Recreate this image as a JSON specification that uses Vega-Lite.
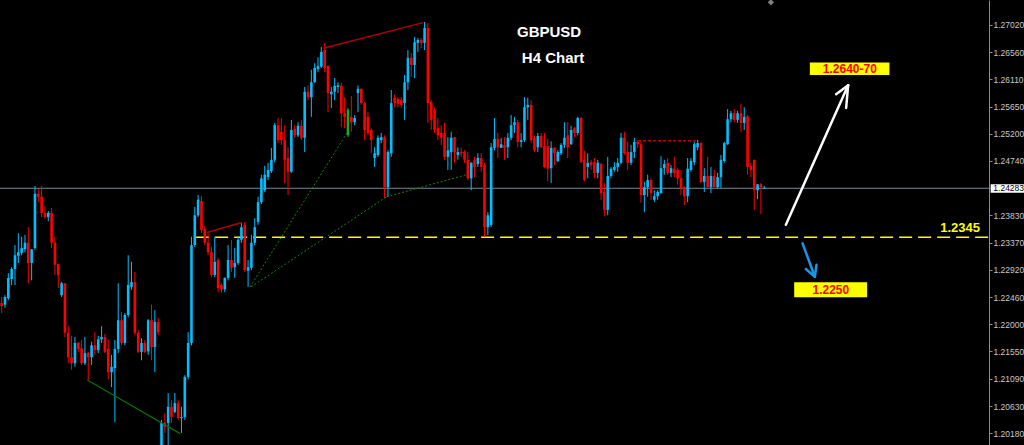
{
"$schema":"https://vega.github.io/schema/vega-lite/v6.json",
"width":989,"height":445,"padding":{"left":0,"top":0,"bottom":0,"right":35},"autosize":{"type":"none"},
"background":"#000000",
"config":{"view":{"stroke":null}},
"datasets":{
"candles":[
{"t":0,"o":1.2236,"h":1.2246,"l":1.2219,"c":1.2231},{"t":1,"o":1.2233,"h":1.2249,"l":1.2228,"c":1.2246},{"t":2,"o":1.2244,"h":1.2286,"l":1.2241,"c":1.2278},{"t":3,"o":1.2276,"h":1.2296,"l":1.2266,"c":1.2293},{"t":4,"o":1.2293,"h":1.2333,"l":1.2266,"c":1.2316},{"t":5,"o":1.2315,"h":1.2353,"l":1.2303,"c":1.2321},{"t":6,"o":1.232,"h":1.2347,"l":1.2316,"c":1.2328},{"t":7,"o":1.2326,"h":1.235,"l":1.2321,"c":1.2337},{"t":8,"o":1.2337,"h":1.2363,"l":1.2269,"c":1.2303},{"t":9,"o":1.2303,"h":1.2326,"l":1.2274,"c":1.2326},
{"t":10,"o":1.2328,"h":1.2432,"l":1.2325,"c":1.2419},{"t":11,"o":1.2419,"h":1.2427,"l":1.2405,"c":1.2414},{"t":12,"o":1.2414,"h":1.2432,"l":1.238,"c":1.2387},{"t":13,"o":1.2387,"h":1.2398,"l":1.2377,"c":1.238},{"t":14,"o":1.238,"h":1.239,"l":1.2373,"c":1.2387},{"t":15,"o":1.2387,"h":1.2395,"l":1.2328,"c":1.2337},{"t":16,"o":1.2337,"h":1.2347,"l":1.2283,"c":1.23},{"t":17,"o":1.2301,"h":1.2301,"l":1.2261,"c":1.2283},{"t":18,"o":1.2249,"h":1.2271,"l":1.2246,"c":1.2269},{"t":19,"o":1.2269,"h":1.2269,"l":1.2179,"c":1.2186},
{"t":20,"o":1.2186,"h":1.2197,"l":1.2135,"c":1.2145},{"t":21,"o":1.2145,"h":1.2181,"l":1.2124,"c":1.2135},{"t":22,"o":1.2135,"h":1.2179,"l":1.2129,"c":1.2169},{"t":23,"o":1.2169,"h":1.2171,"l":1.2154,"c":1.2159},{"t":24,"o":1.216,"h":1.2174,"l":1.2132,"c":1.2135},{"t":25,"o":1.2135,"h":1.2179,"l":1.2132,"c":1.2152},{"t":26,"o":1.2152,"h":1.2154,"l":1.2107,"c":1.2145},{"t":27,"o":1.2145,"h":1.2171,"l":1.2132,"c":1.2165},{"t":28,"o":1.2165,"h":1.2187,"l":1.2149,"c":1.2157},{"t":29,"o":1.2157,"h":1.2181,"l":1.2152,"c":1.2175},
{"t":30,"o":1.2175,"h":1.2197,"l":1.2169,"c":1.2179},{"t":31,"o":1.2179,"h":1.2184,"l":1.2152,"c":1.2154},{"t":32,"o":1.2159,"h":1.2175,"l":1.2108,"c":1.212},{"t":33,"o":1.212,"h":1.2149,"l":1.2095,"c":1.2129},{"t":34,"o":1.2127,"h":1.2174,"l":1.2036,"c":1.2159},{"t":35,"o":1.2159,"h":1.2269,"l":1.2152,"c":1.2207},{"t":36,"o":1.2207,"h":1.2221,"l":1.2165,"c":1.2169},{"t":37,"o":1.2169,"h":1.2219,"l":1.2165,"c":1.2216},{"t":38,"o":1.2216,"h":1.2316,"l":1.2212,"c":1.2266},{"t":39,"o":1.2263,"h":1.2305,"l":1.2258,"c":1.2271},
{"t":40,"o":1.2271,"h":1.2288,"l":1.2182,"c":1.2186},{"t":41,"o":1.2186,"h":1.2191,"l":1.2152,"c":1.2154},{"t":42,"o":1.2154,"h":1.2177,"l":1.214,"c":1.2169},{"t":43,"o":1.2169,"h":1.2174,"l":1.2152,"c":1.2154},{"t":44,"o":1.2155,"h":1.2209,"l":1.2149,"c":1.2207},{"t":45,"o":1.2207,"h":1.2233,"l":1.214,"c":1.2162},{"t":46,"o":1.2162,"h":1.2224,"l":1.212,"c":1.2204},{"t":47,"o":1.2204,"h":1.2211,"l":1.2182,"c":1.2187},{"t":48,"o":1.1993,"h":1.204,"l":1.1981,"c":1.2035},{"t":49,"o":1.2035,"h":1.2051,"l":1.2018,"c":1.2028},
{"t":50,"o":1.2035,"h":1.2085,"l":1.1998,"c":1.2062},{"t":51,"o":1.2062,"h":1.2073,"l":1.2035,"c":1.2045},{"t":52,"o":1.2053,"h":1.2085,"l":1.2051,"c":1.2068},{"t":53,"o":1.2068,"h":1.2073,"l":1.204,"c":1.2043},{"t":54,"o":1.2043,"h":1.2062,"l":1.2018,"c":1.2045},{"t":55,"o":1.2045,"h":1.2115,"l":1.204,"c":1.2112},{"t":56,"o":1.2112,"h":1.2187,"l":1.2108,"c":1.2169},{"t":57,"o":1.2169,"h":1.2347,"l":1.2165,"c":1.2333},{"t":58,"o":1.2333,"h":1.2397,"l":1.233,"c":1.2383},{"t":59,"o":1.2383,"h":1.2417,"l":1.238,"c":1.2409},
{"t":60,"o":1.2407,"h":1.2415,"l":1.2353,"c":1.2358},{"t":61,"o":1.236,"h":1.2365,"l":1.2333,"c":1.2337},{"t":62,"o":1.2337,"h":1.2353,"l":1.2316,"c":1.2321},{"t":63,"o":1.2321,"h":1.233,"l":1.2279,"c":1.2283},{"t":64,"o":1.2283,"h":1.2347,"l":1.2279,"c":1.2305},{"t":65,"o":1.2308,"h":1.2311,"l":1.2254,"c":1.2261},{"t":66,"o":1.2266,"h":1.2269,"l":1.2253,"c":1.2259},{"t":67,"o":1.2259,"h":1.2279,"l":1.2254,"c":1.2278},{"t":68,"o":1.2278,"h":1.2333,"l":1.2274,"c":1.2308},{"t":69,"o":1.2308,"h":1.2342,"l":1.2288,"c":1.2295},
{"t":70,"o":1.2296,"h":1.2328,"l":1.2278,"c":1.2303},{"t":71,"o":1.2303,"h":1.2347,"l":1.23,"c":1.2342},{"t":72,"o":1.2342,"h":1.237,"l":1.2337,"c":1.2363},{"t":73,"o":1.2367,"h":1.2372,"l":1.2288,"c":1.2291},{"t":74,"o":1.229,"h":1.2308,"l":1.2263,"c":1.2296},{"t":75,"o":1.2295,"h":1.235,"l":1.2291,"c":1.2337},{"t":76,"o":1.2337,"h":1.2378,"l":1.2333,"c":1.2363},{"t":77,"o":1.2372,"h":1.2414,"l":1.2367,"c":1.2405},{"t":78,"o":1.2405,"h":1.2451,"l":1.2402,"c":1.2445},{"t":79,"o":1.2425,"h":1.2466,"l":1.2422,"c":1.2451},
{"t":80,"o":1.2447,"h":1.2471,"l":1.2442,"c":1.2459},{"t":81,"o":1.2457,"h":1.2496,"l":1.2454,"c":1.2476},{"t":82,"o":1.2476,"h":1.2538,"l":1.2472,"c":1.2534},{"t":83,"o":1.2534,"h":1.2546,"l":1.2504,"c":1.2509},{"t":84,"o":1.2523,"h":1.2546,"l":1.2501,"c":1.2509},{"t":85,"o":1.2509,"h":1.2534,"l":1.2437,"c":1.2476},{"t":86,"o":1.2479,"h":1.2497,"l":1.2417,"c":1.2456},{"t":87,"o":1.2456,"h":1.2543,"l":1.2454,"c":1.2526},{"t":88,"o":1.2528,"h":1.2534,"l":1.2513,"c":1.2517},{"t":89,"o":1.2517,"h":1.2539,"l":1.2514,"c":1.2533},
{"t":90,"o":1.2533,"h":1.2543,"l":1.2509,"c":1.2513},{"t":91,"o":1.2513,"h":1.2598,"l":1.2489,"c":1.259},{"t":92,"o":1.259,"h":1.2601,"l":1.2576,"c":1.2581},{"t":93,"o":1.2581,"h":1.2627,"l":1.2548,"c":1.2606},{"t":94,"o":1.2606,"h":1.2638,"l":1.2605,"c":1.263},{"t":95,"o":1.2628,"h":1.2648,"l":1.2623,"c":1.2633},{"t":96,"o":1.2632,"h":1.2665,"l":1.263,"c":1.2657},{"t":97,"o":1.266,"h":1.2672,"l":1.2623,"c":1.263},{"t":98,"o":1.2633,"h":1.2635,"l":1.2556,"c":1.2588},{"t":99,"o":1.2586,"h":1.2598,"l":1.2563,"c":1.259},
{"t":100,"o":1.259,"h":1.2613,"l":1.2576,"c":1.26},{"t":101,"o":1.2598,"h":1.2606,"l":1.2588,"c":1.2601},{"t":102,"o":1.26,"h":1.2605,"l":1.2531,"c":1.2554},{"t":103,"o":1.2554,"h":1.2581,"l":1.2529,"c":1.2548},{"t":104,"o":1.2517,"h":1.2563,"l":1.2514,"c":1.256,"k":"sig"},{"t":105,"o":1.2548,"h":1.2583,"l":1.2523,"c":1.2539},{"t":106,"o":1.2539,"h":1.2551,"l":1.2534,"c":1.2546},{"t":107,"o":1.2588,"h":1.2601,"l":1.2556,"c":1.2595},{"t":108,"o":1.2595,"h":1.2596,"l":1.2568,"c":1.2571},{"t":109,"o":1.2571,"h":1.2573,"l":1.2509,"c":1.2526},
{"t":110,"o":1.2548,"h":1.2556,"l":1.2517,"c":1.2521},{"t":111,"o":1.2526,"h":1.2529,"l":1.2487,"c":1.2509},{"t":112,"o":1.2479,"h":1.2497,"l":1.2464,"c":1.2487},{"t":113,"o":1.2484,"h":1.2517,"l":1.2481,"c":1.2513},{"t":114,"o":1.2509,"h":1.2521,"l":1.2504,"c":1.2514},{"t":115,"o":1.2514,"h":1.2517,"l":1.2412,"c":1.243},{"t":116,"o":1.243,"h":1.2492,"l":1.2414,"c":1.2489},{"t":117,"o":1.2487,"h":1.2593,"l":1.2481,"c":1.2571},{"t":118,"o":1.258,"h":1.2585,"l":1.2564,"c":1.2571},{"t":119,"o":1.2578,"h":1.2581,"l":1.2564,"c":1.257},
{"t":120,"o":1.2576,"h":1.2581,"l":1.2563,"c":1.2568},{"t":121,"o":1.2571,"h":1.2618,"l":1.2543,"c":1.2606},{"t":122,"o":1.2606,"h":1.266,"l":1.2593,"c":1.2647},{"t":123,"o":1.2647,"h":1.2655,"l":1.2615,"c":1.2635},{"t":124,"o":1.2635,"h":1.2682,"l":1.2613,"c":1.2673},{"t":125,"o":1.2672,"h":1.268,"l":1.2657,"c":1.2677},{"t":126,"o":1.2677,"h":1.268,"l":1.2663,"c":1.2672},{"t":127,"o":1.2672,"h":1.2707,"l":1.266,"c":1.2697},{"t":128,"o":1.2697,"h":1.2705,"l":1.2538,"c":1.2571},{"t":129,"o":1.2573,"h":1.2576,"l":1.2526,"c":1.2543},
{"t":130,"o":1.256,"h":1.2564,"l":1.2521,"c":1.2526},{"t":131,"o":1.2529,"h":1.2546,"l":1.2509,"c":1.2517},{"t":132,"o":1.2521,"h":1.2534,"l":1.2501,"c":1.2513},{"t":133,"o":1.2521,"h":1.2538,"l":1.2476,"c":1.2481},{"t":134,"o":1.2481,"h":1.2514,"l":1.2459,"c":1.2492},{"t":135,"o":1.2489,"h":1.2523,"l":1.2459,"c":1.2513},{"t":136,"o":1.2514,"h":1.2514,"l":1.2471,"c":1.2489},{"t":137,"o":1.2484,"h":1.2497,"l":1.2476,"c":1.2489},{"t":138,"o":1.2489,"h":1.2496,"l":1.2481,"c":1.2487},{"t":139,"o":1.2489,"h":1.2492,"l":1.2471,"c":1.2476},
{"t":140,"o":1.2476,"h":1.2489,"l":1.2442,"c":1.2445},{"t":141,"o":1.2445,"h":1.2472,"l":1.2425,"c":1.2471},{"t":142,"o":1.2476,"h":1.2481,"l":1.2447,"c":1.2464},{"t":143,"o":1.2469,"h":1.2487,"l":1.2464,"c":1.2479},{"t":144,"o":1.2479,"h":1.2487,"l":1.2456,"c":1.2464},{"t":145,"o":1.2467,"h":1.2471,"l":1.2347,"c":1.2363},{"t":146,"o":1.2363,"h":1.2388,"l":1.235,"c":1.2383},{"t":147,"o":1.2367,"h":1.2504,"l":1.2363,"c":1.2497},{"t":148,"o":1.2496,"h":1.2546,"l":1.2492,"c":1.2511},{"t":149,"o":1.2511,"h":1.2521,"l":1.2479,"c":1.2497},
{"t":150,"o":1.2496,"h":1.2513,"l":1.2496,"c":1.2502},{"t":151,"o":1.2501,"h":1.2514,"l":1.2476,"c":1.2496},{"t":152,"o":1.2497,"h":1.2521,"l":1.2479,"c":1.2513},{"t":153,"o":1.2513,"h":1.2551,"l":1.2509,"c":1.2534},{"t":154,"o":1.2534,"h":1.2548,"l":1.2521,"c":1.2539},{"t":155,"o":1.2539,"h":1.2543,"l":1.2497,"c":1.2506},{"t":156,"o":1.2506,"h":1.2521,"l":1.2497,"c":1.2509},{"t":157,"o":1.2509,"h":1.2581,"l":1.2506,"c":1.2564},{"t":158,"o":1.2564,"h":1.258,"l":1.2543,"c":1.2568},{"t":159,"o":1.2568,"h":1.2576,"l":1.2504,"c":1.2509},
{"t":160,"o":1.2513,"h":1.2517,"l":1.2489,"c":1.2492},{"t":161,"o":1.2497,"h":1.2521,"l":1.2489,"c":1.2516},{"t":162,"o":1.2516,"h":1.2521,"l":1.2496,"c":1.2497},{"t":163,"o":1.2499,"h":1.2521,"l":1.2462,"c":1.2464},{"t":164,"o":1.2499,"h":1.2511,"l":1.244,"c":1.2461},{"t":165,"o":1.2462,"h":1.2507,"l":1.2437,"c":1.2496},{"t":166,"o":1.2496,"h":1.2497,"l":1.2467,"c":1.2487},{"t":167,"o":1.2474,"h":1.2492,"l":1.2472,"c":1.2489},{"t":168,"o":1.2487,"h":1.2504,"l":1.2484,"c":1.2501},{"t":169,"o":1.2501,"h":1.2539,"l":1.2496,"c":1.2513},
{"t":170,"o":1.2517,"h":1.2539,"l":1.2479,"c":1.2497},{"t":171,"o":1.2502,"h":1.2533,"l":1.2501,"c":1.2526},{"t":172,"o":1.2529,"h":1.2531,"l":1.2514,"c":1.2521},{"t":173,"o":1.2521,"h":1.2548,"l":1.2517,"c":1.2546},{"t":174,"o":1.2546,"h":1.2548,"l":1.2471,"c":1.2472},{"t":175,"o":1.2476,"h":1.2491,"l":1.244,"c":1.2442},{"t":176,"o":1.2464,"h":1.2487,"l":1.2445,"c":1.2471},{"t":177,"o":1.2472,"h":1.2476,"l":1.2459,"c":1.2467},{"t":178,"o":1.2472,"h":1.2479,"l":1.2445,"c":1.2454},{"t":179,"o":1.2454,"h":1.2476,"l":1.2445,"c":1.2471},
{"t":180,"o":1.2469,"h":1.2471,"l":1.2409,"c":1.242},{"t":181,"o":1.2422,"h":1.2437,"l":1.2382,"c":1.2392},{"t":182,"o":1.2392,"h":1.2481,"l":1.2383,"c":1.2449},{"t":183,"o":1.2449,"h":1.2464,"l":1.2445,"c":1.2461},{"t":184,"o":1.2459,"h":1.2472,"l":1.2456,"c":1.2464},{"t":185,"o":1.2464,"h":1.2479,"l":1.2456,"c":1.2471},{"t":186,"o":1.2471,"h":1.2521,"l":1.2469,"c":1.2513},{"t":187,"o":1.2513,"h":1.2523,"l":1.2484,"c":1.2487},{"t":188,"o":1.2489,"h":1.2506,"l":1.2459,"c":1.2471},{"t":189,"o":1.2471,"h":1.2501,"l":1.2467,"c":1.2489},
{"t":190,"o":1.2489,"h":1.2513,"l":1.2479,"c":1.2506},{"t":191,"o":1.2506,"h":1.2509,"l":1.2496,"c":1.2502},{"t":192,"o":1.2502,"h":1.2506,"l":1.2404,"c":1.2417},{"t":193,"o":1.2417,"h":1.2439,"l":1.2388,"c":1.243},{"t":194,"o":1.243,"h":1.2451,"l":1.2414,"c":1.2442},{"t":195,"o":1.2442,"h":1.2445,"l":1.2409,"c":1.242},{"t":196,"o":1.2409,"h":1.2425,"l":1.2405,"c":1.2415},{"t":197,"o":1.2415,"h":1.2425,"l":1.2409,"c":1.2422},{"t":198,"o":1.242,"h":1.2482,"l":1.242,"c":1.2462},{"t":199,"o":1.2462,"h":1.2476,"l":1.2451,"c":1.2469},
{"t":200,"o":1.2471,"h":1.2479,"l":1.2451,"c":1.2454},{"t":201,"o":1.2454,"h":1.2467,"l":1.2447,"c":1.2462},{"t":202,"o":1.2461,"h":1.2481,"l":1.2447,"c":1.2454},{"t":203,"o":1.2459,"h":1.2462,"l":1.2434,"c":1.2445},{"t":204,"o":1.2445,"h":1.2459,"l":1.2417,"c":1.2429},{"t":205,"o":1.243,"h":1.2432,"l":1.24,"c":1.2415},{"t":206,"o":1.2415,"h":1.2479,"l":1.2405,"c":1.2461},{"t":207,"o":1.2459,"h":1.2479,"l":1.2456,"c":1.2474},{"t":208,"o":1.2472,"h":1.2506,"l":1.2467,"c":1.2502},{"t":209,"o":1.2497,"h":1.2509,"l":1.2492,"c":1.2504},
{"t":210,"o":1.2504,"h":1.2506,"l":1.2437,"c":1.2439},{"t":211,"o":1.2439,"h":1.2462,"l":1.2422,"c":1.2449},{"t":212,"o":1.2449,"h":1.2481,"l":1.243,"c":1.243},{"t":213,"o":1.243,"h":1.2464,"l":1.242,"c":1.2449},{"t":214,"o":1.2449,"h":1.2459,"l":1.243,"c":1.243},{"t":215,"o":1.243,"h":1.2454,"l":1.2429,"c":1.2447},{"t":216,"o":1.2447,"h":1.2484,"l":1.2429,"c":1.2476},{"t":217,"o":1.2474,"h":1.2506,"l":1.2471,"c":1.2504},{"t":218,"o":1.2502,"h":1.2561,"l":1.2501,"c":1.2544},{"t":219,"o":1.2544,"h":1.2558,"l":1.2539,"c":1.2554},
{"t":220,"o":1.2554,"h":1.2561,"l":1.2539,"c":1.2543},{"t":221,"o":1.2543,"h":1.2558,"l":1.2538,"c":1.2554},{"t":222,"o":1.2554,"h":1.257,"l":1.2523,"c":1.2538},{"t":223,"o":1.2538,"h":1.2564,"l":1.2526,"c":1.2548},{"t":224,"o":1.2549,"h":1.2551,"l":1.2451,"c":1.2464},{"t":225,"o":1.2466,"h":1.2471,"l":1.2447,"c":1.2459},{"t":226,"o":1.2476,"h":1.2476,"l":1.2392,"c":1.2425},{"t":227,"o":1.2425,"h":1.2435,"l":1.241,"c":1.2435},{"t":228,"o":1.2435,"h":1.2437,"l":1.2385,"c":1.243},{"t":229,"o":1.2428,"h":1.2432,"l":1.2427,"c":1.2429}
]},
"encoding":{
 "x":{"field":"t","type":"quantitative","scale":{"domain":[-0.5,296.5],"nice":false,"zero":false,"padding":0},"axis":null},
 "y":{"field":"p","type":"quantitative","scale":{"domain":[1.19979,1.27439],"nice":false,"zero":false},
  "axis":{"orient":"right","values":[1.2018,1.2063,1.2109,1.2155,1.22,1.2246,1.2292,1.2337,1.2383,1.2474,1.252,1.2565,1.2611,1.2656,1.2702],"format":".5f","title":null,"grid":false,"domain":true,"ticks":true,"labels":true,"domainColor":"#8c8c8c","tickColor":"#8c8c8c","tickSize":3,"labelColor":"#c8c8c8","labelFont":"Liberation Sans","labelFontSize":8.5,"labelPadding":1,"labelOverlap":false,"labelFlush":false}}
},
"layer":[
{"data":{"values":[{"t":-0.5,"p":1.24283,"t2":297,"p2":1.24283}]},
 "mark":{"type":"rule","color":"#778899","strokeWidth":1},
 "encoding":{"x2":{"field":"t2"},"y2":{"field":"p2"}}},
{"data":{"values":[{"t":58.4,"p":1.2346,"t2":296.5,"p2":1.2346}]},
 "mark":{"type":"rule","color":"#ffff00","strokeWidth":1.5,"strokeDash":[13,6]},
 "encoding":{"x2":{"field":"t2"},"y2":{"field":"p2"}}},
{"data":{"values":[{"t":74.6,"p":1.2263,"t2":103.7,"p2":1.2521},{"t":74.9,"p":1.2263,"t2":115.6,"p2":1.2414},{"t":115.6,"p":1.2414,"t2":139.6,"p2":1.2451}]},
 "mark":{"type":"rule","color":"#0f8a0f","strokeWidth":1,"strokeDash":[2,2]},
 "encoding":{"x2":{"field":"t2"},"y2":{"field":"p2"}}},
{"data":{"name":"candles"},
 "mark":{"type":"rule","strokeWidth":1,"clip":true},
 "encoding":{
  "y":{"field":"l","type":"quantitative","scale":{"domain":[1.19979,1.27439],"nice":false,"zero":false},
   "axis":{"orient":"right","values":[1.2018,1.2063,1.2109,1.2155,1.22,1.2246,1.2292,1.2337,1.2383,1.2474,1.252,1.2565,1.2611,1.2656,1.2702],"format":".5f","title":null,"grid":false,"domain":true,"ticks":true,"labels":true,"domainColor":"#8c8c8c","tickColor":"#8c8c8c","tickSize":3,"labelColor":"#c8c8c8","labelFont":"Liberation Sans","labelFontSize":8.5,"labelPadding":1,"labelOverlap":false,"labelFlush":false}},
  "y2":{"field":"h"},
  "color":{"condition":[{"test":"datum.k === 'sig'","value":"#1fa81f"},{"test":"datum.c >= datum.o","value":"#00bfff"}],"value":"#ff0000"}}},
{"data":{"name":"candles"},
 "mark":{"type":"bar","width":2.6,"clip":true},
 "encoding":{
  "y":{"field":"o","type":"quantitative","scale":{"domain":[1.19979,1.27439],"nice":false,"zero":false},
   "axis":{"orient":"right","values":[1.2018,1.2063,1.2109,1.2155,1.22,1.2246,1.2292,1.2337,1.2383,1.2474,1.252,1.2565,1.2611,1.2656,1.2702],"format":".5f","title":null,"grid":false,"domain":true,"ticks":true,"labels":true,"domainColor":"#8c8c8c","tickColor":"#8c8c8c","tickSize":3,"labelColor":"#c8c8c8","labelFont":"Liberation Sans","labelFontSize":8.5,"labelPadding":1,"labelOverlap":false,"labelFlush":false}},
  "y2":{"field":"c"},
  "color":{"condition":[{"test":"datum.k === 'sig'","value":"#1fa81f"},{"test":"datum.c >= datum.o","value":"#00bfff"}],"value":"#ff0000"}}},
{"data":{"values":[{"t":96.6,"p":1.2663,"t2":126.6,"p2":1.2706},{"t":61.6,"p":1.2354,"t2":72.1,"p2":1.2371}]},
 "mark":{"type":"rule","color":"#b00000","strokeWidth":1.5},
 "encoding":{"x2":{"field":"t2"},"y2":{"field":"p2"}}},
{"data":{"values":[{"t":25.7,"p":1.2107,"t2":53.6,"p2":1.2017}]},
 "mark":{"type":"rule","color":"#0a6e0a","strokeWidth":1.2},
 "encoding":{"x2":{"field":"t2"},"y2":{"field":"p2"}}},
{"data":{"values":[{"t":191.1,"p":1.2508,"t2":209.2,"p2":1.2508}]},
 "mark":{"type":"rule","color":"#c00000","strokeWidth":1.5,"strokeDash":[3,2]},
 "encoding":{"x2":{"field":"t2"},"y2":{"field":"p2"}}},
{"data":{"values":[{"t":235.5,"p":1.2367,"t2":254.2,"p2":1.2601},{"t":250.6,"p":1.2586,"t2":254.2,"p2":1.2601},{"t":253.6,"p":1.2563,"t2":254.2,"p2":1.2601}]},
 "mark":{"type":"rule","color":"#ffffff","strokeWidth":2.5,"strokeCap":"round"},
 "encoding":{"x2":{"field":"t2"},"y2":{"field":"p2"}}},
{"data":{"values":[{"t":240.5,"p":1.2336,"t2":244.2,"p2":1.228},{"t":241.5,"p":1.2293,"t2":244.2,"p2":1.228},{"t":244.7,"p":1.23,"t2":244.2,"p2":1.228}]},
 "mark":{"type":"rule","color":"#1c96e6","strokeWidth":2.5,"strokeCap":"round"},
 "encoding":{"x2":{"field":"t2"},"y2":{"field":"p2"}}},
{"data":{"values":[{"t":242.7,"p":1.2618,"t2":266.6,"p2":1.2639},{"t":238.0,"p":1.22455,"t2":259.9,"p2":1.22706}]},
 "mark":{"type":"rect","color":"#ffff00"},
 "encoding":{"x2":{"field":"t2"},"y2":{"field":"p2"}}},
{"data":{"values":[{"t":254.7,"p":1.2628,"s":"1.2640-70"},{"t":249.0,"p":1.2258,"s":"1.2250"}]},
 "mark":{"type":"text","color":"#ff0000","font":"Liberation Sans","fontWeight":"bold","fontSize":12,"align":"center","baseline":"middle"},
 "encoding":{"text":{"field":"s"}}},
{"data":{"values":[{"t":293.8,"p":1.23555,"s":"1.2345"}]},
 "mark":{"type":"text","color":"#ffff00","font":"Liberation Sans","fontWeight":"bold","fontSize":13,"align":"right","baseline":"alphabetic"},
 "encoding":{"text":{"field":"s"}}},
{"data":{"values":[{"t":164.4,"p":1.269,"s":"GBPUSD"},{"t":165.6,"p":1.2647,"s":"H4 Chart"}]},
 "mark":{"type":"text","color":"#ffffff","font":"Liberation Sans","fontWeight":"bold","fontSize":15,"align":"center","baseline":"middle"},
 "encoding":{"text":{"field":"s"}}},
{"data":{"values":[{"t":231.0,"p":1.274}]},
 "mark":{"type":"point","shape":"diamond","filled":true,"color":"#7f7f7f","size":40,"opacity":1}},
{"data":{"values":[{"t":297.0,"p":1.24208,"t2":307,"p2":1.24349}]},
 "mark":{"type":"rect","color":"#ffffff"},
 "encoding":{"x2":{"field":"t2"},"y2":{"field":"p2"}}},
{"data":{"values":[{"t":297.8,"p":1.24279,"s":"1.24283"}]},
 "mark":{"type":"text","color":"#000000","font":"Liberation Sans","fontSize":8.5,"align":"left","baseline":"middle"},
 "encoding":{"text":{"field":"s"}}}
]
}
